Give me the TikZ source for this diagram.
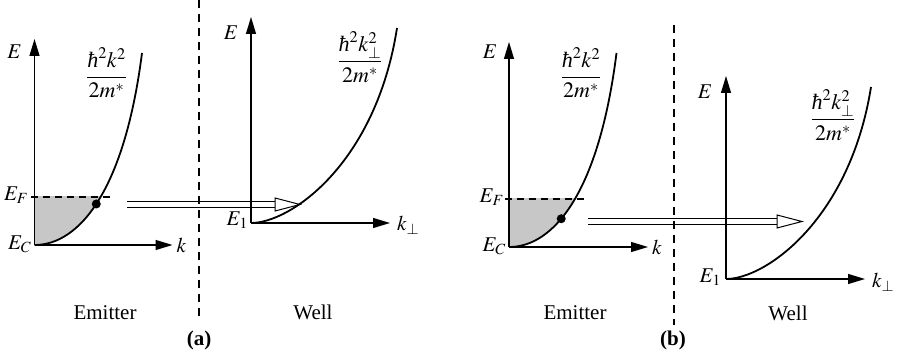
\documentclass[tikz,border=0pt]{standalone}
\usepackage{mathptmx}
\usepackage[no-math]{fontspec}
\setmainfont{Liberation Serif}
\usetikzlibrary{arrows.meta,calc}
\newcommand{\hbarglyph}{\mathord{\mbox{\itshape ħ}}}
\tikzset{
  axis/.style={line width=1.2pt, -{Triangle[length=17pt,width=10pt]}},
  band/.style={line width=1.8pt},
  efline/.style={line width=1.1pt, dash pattern=on 7pt off 5pt},
  sep/.style={line width=1.3pt, dash pattern=on 8pt off 6pt},
  lbl/.style={font=\fontsize{21}{24}\selectfont, inner sep=0pt},
  fraclbl/.style={font=\fontsize{22}{26}\selectfont, inner sep=0pt},
  caplbl/.style={font=\fontsize{21}{25}\selectfont, inner sep=0pt},
  shade/.style={fill=black!22},
  dotnode/.style={circle, fill=black, inner sep=0pt, minimum size=9pt},
  dblline/.style={line width=1pt},
  dblhead/.style={line width=1pt, fill=white, line join=miter},
}
\begin{document}
\begin{tikzpicture}[x=1pt,y=-1pt]
\useasboundingbox (0,0) rectangle (897,352);

% ---------- panel (a): emitter ----------
\begin{scope}[shift={(34.5,245)}]
  \coordinate (ea-o) at (0,0);
  \coordinate (ea-et) at (0,-206);
  \coordinate (ea-kt) at (138,0);
  \begin{scope}
    \clip (0,-48) rectangle (110,0);
    \fill[shade] (0,0) .. controls (45,0) and (90,-55) .. (107.5,-192) -- (0,-192) -- cycle;
  \end{scope}
  \draw[efline] (-4,-48) -- (78,-48);
  \draw[axis] (ea-o) -- (ea-et);
  \draw[axis] (ea-o) -- (ea-kt);
  \draw[band] (0,0) .. controls (45,0) and (90,-55) .. (107.5,-192)
    node[pos=0.48, dotnode] (ea-dot) {};
  \node[lbl] (ea-E) at (-20,-193) {$E$};
  \node[lbl, anchor=east] (ea-EF) at (-6,-50) {$E_F$};
  \node[lbl, anchor=east] (ea-EC) at (-3,-1) {$E_C$};
  \node[lbl, anchor=west] (ea-k) at (142,0) {$k$};
  \node[fraclbl] (ea-fr) at (72,-172) {$\displaystyle\frac{\hbarglyph^2k^2}{2m^*}$};
\end{scope}
\node[caplbl] (ea-name) at (105,313) {Emitter};

% ---------- panel (a): well ----------
\begin{scope}[shift={(251,223)}]
  \coordinate (wa-o) at (0,0);
  \coordinate (wa-et) at (0,-206);
  \coordinate (wa-kt) at (139,0);
  \draw[axis] (wa-o) -- (wa-et);
  \draw[axis] (wa-o) -- (wa-kt);
  \draw[band] (0,0) .. controls (40,0) and (125,-60) .. (146,-195);
  \node[lbl] (wa-E) at (-20,-190) {$E$};
  \node[lbl, anchor=east] (wa-E1) at (-3,-3) {$E_1$};
  \node[lbl, anchor=base west] (wa-k) at (146,8) {$k_\perp$};
  \node[fraclbl] (wa-fr) at (109,-166) {$\displaystyle\frac{\hbarglyph^2k_\perp^2}{2m^*}$};
\end{scope}
\node[caplbl] (wa-name) at (313,312) {Well};

% separator (a)
\coordinate (sa-t) at (199,0);
\coordinate (sa-b) at (199,318);
\draw[sep] (sa-t) -- (sa-b);
\node[caplbl, font=\fontsize{21}{25}\selectfont\bfseries] (lab-a) at (199,340) {(a)};

% double arrow (a)
\coordinate (da-s) at (127,204.5);
\coordinate (da-t) at (300,204.5);
\draw[dblline] ($(da-s)+(0,-2.6)$) -- ($(da-t)+(-25,-2.6)$);
\draw[dblline] ($(da-s)+(0,2.6)$) -- ($(da-t)+(-25,2.6)$);
\draw[dblhead] ($(da-t)+(-25,-6.5)$) -- (da-t) -- ($(da-t)+(-25,6.5)$) -- cycle;

% ---------- panel (b): emitter ----------
\begin{scope}[shift={(509,247)}]
  \coordinate (eb-o) at (0,0);
  \coordinate (eb-et) at (0,-205);
  \coordinate (eb-kt) at (139,0);
  \begin{scope}
    \clip (0,-48) rectangle (110,0);
    \fill[shade] (0,0) .. controls (45,0) and (90,-55) .. (107.5,-192) -- (0,-192) -- cycle;
  \end{scope}
  \draw[efline] (-4,-48) -- (76,-48);
  \draw[axis] (eb-o) -- (eb-et);
  \draw[axis] (eb-o) -- (eb-kt);
  \draw[band] (0,0) .. controls (45,0) and (90,-55) .. (107.5,-194)
    node[pos=0.4, dotnode] (eb-dot) {};
  \node[lbl] (eb-E) at (-19,-195) {$E$};
  \node[lbl, anchor=east] (eb-EF) at (-5,-50) {$E_F$};
  \node[lbl, anchor=east] (eb-EC) at (-3,-1) {$E_C$};
  \node[lbl, anchor=west] (eb-k) at (143,0) {$k$};
  \node[fraclbl] (eb-fr) at (72,-174) {$\displaystyle\frac{\hbarglyph^2k^2}{2m^*}$};
\end{scope}
\node[caplbl] (eb-name) at (575,313) {Emitter};

% ---------- panel (b): well ----------
\begin{scope}[shift={(726,279)}]
  \coordinate (wb-o) at (0,0);
  \coordinate (wb-et) at (0,-203);
  \coordinate (wb-kt) at (139,0);
  \draw[axis] (wb-o) -- (wb-et);
  \draw[axis] (wb-o) -- (wb-kt);
  \draw[band] (0,0) .. controls (40,0) and (124,-60) .. (145,-192);
  \node[lbl] (wb-E) at (-21,-187) {$E$};
  \node[lbl, anchor=east] (wb-E1) at (-5,-2) {$E_1$};
  \node[lbl, anchor=base west] (wb-k) at (146,9) {$k_\perp$};
  \node[fraclbl] (wb-fr) at (107,-164) {$\displaystyle\frac{\hbarglyph^2k_\perp^2}{2m^*}$};
\end{scope}
\node[caplbl] (wb-name) at (788,313) {Well};

% separator (b)
\coordinate (sb-t) at (674,25);
\coordinate (sb-b) at (674,325);
\draw[sep] (sb-t) -- (sb-b);
\node[caplbl, font=\fontsize{21}{25}\selectfont\bfseries] (lab-b) at (673,340) {(b)};

% double arrow (b)
\coordinate (db-s) at (588,221.5);
\coordinate (db-t) at (802,221.5);
\draw[dblline] ($(db-s)+(0,-2.6)$) -- ($(db-t)+(-25,-2.6)$);
\draw[dblline] ($(db-s)+(0,2.6)$) -- ($(db-t)+(-25,2.6)$);
\draw[dblhead] ($(db-t)+(-25,-6.5)$) -- (db-t) -- ($(db-t)+(-25,6.5)$) -- cycle;
\end{tikzpicture}
\end{document}
